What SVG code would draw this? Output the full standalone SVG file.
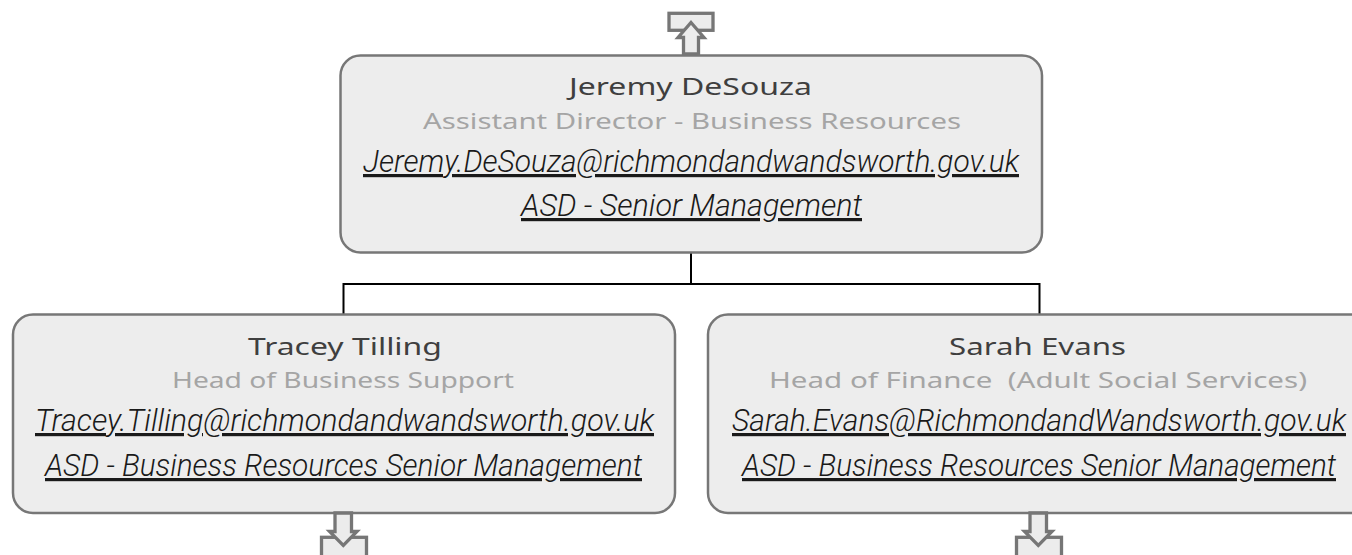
<svg xmlns="http://www.w3.org/2000/svg" width="1352" height="555" viewBox="0 0 1352 555">
<style>
.box{fill:#ededed;stroke:#777;stroke-width:2.5}
.arr{fill:#ececec;stroke:#767676;stroke-width:3.3;stroke-linejoin:miter}
.con{fill:none;stroke:#000;stroke-width:2}
.name{font-family:"Noto Sans","DejaVu Sans",sans-serif;font-size:24px;fill:#3f3f3f}
.title{font-family:"Noto Sans","DejaVu Sans",sans-serif;font-size:21px;fill:#a5a5a5}
.link{font-family:Roboto,"Liberation Sans",sans-serif;font-style:italic;font-weight:300;font-size:32px;fill:#1a1a1a;text-decoration:underline}
</style>
<rect width="1352" height="555" fill="#fff"/>
<g id="connectors">
<path class="con" d="M691 253V284M343.5 315V284H1039.5V315"/>
</g>
<g id="arrow-up">
<rect class="arr" x="669" y="13.3" width="44" height="17"/>
<polygon class="arr" points="691,22.5 704,37.5 698.5,37.5 698.5,54 683.5,54 683.5,37.5 678,37.5"/>
</g>
<g id="node-jeremy">
<rect class="box" x="340.5" y="55.5" width="701.5" height="197" rx="20"/>
<text class="name" x="569" y="95" textLength="243" lengthAdjust="spacingAndGlyphs">Jeremy DeSouza</text>
<text class="title" x="423" y="129" textLength="538" lengthAdjust="spacingAndGlyphs">Assistant Director - Business Resources</text>
<text class="link" x="363" y="172" textLength="656" lengthAdjust="spacingAndGlyphs">Jeremy.DeSouza@richmondandwandsworth.gov.uk</text>
<text class="link" x="521" y="216" textLength="341" lengthAdjust="spacingAndGlyphs">ASD - Senior Management</text>
</g>
<g id="node-tracey">
<rect class="box" x="13" y="314.5" width="662" height="198.5" rx="20"/>
<text class="name" x="248" y="355" textLength="194" lengthAdjust="spacingAndGlyphs">Tracey Tilling</text>
<text class="title" x="172" y="388" textLength="342" lengthAdjust="spacingAndGlyphs">Head of Business Support</text>
<text class="link" x="35" y="431" textLength="619" lengthAdjust="spacingAndGlyphs">Tracey.Tilling@richmondandwandsworth.gov.uk</text>
<text class="link" x="45" y="476" textLength="597" lengthAdjust="spacingAndGlyphs">ASD - Business Resources Senior Management</text>
</g>
<g id="node-sarah">
<rect class="box" x="708" y="314.5" width="663" height="198.5" rx="20"/>
<text class="name" x="949" y="355" textLength="177" lengthAdjust="spacingAndGlyphs">Sarah Evans</text>
<text class="title" x="769" y="388" textLength="538" lengthAdjust="spacingAndGlyphs" xml:space="preserve">Head of Finance  (Adult Social Services)</text>
<text class="link" x="732" y="431" textLength="614" lengthAdjust="spacingAndGlyphs">Sarah.Evans@RichmondandWandsworth.gov.uk</text>
<text class="link" x="742" y="476" textLength="594" lengthAdjust="spacingAndGlyphs">ASD - Business Resources Senior Management</text>
</g>
<g id="arrow-down-left">
<rect class="arr" x="321.5" y="537.3" width="45" height="25"/>
<polygon class="arr" points="335,513 351.5,513 351.5,531.5 357,531.5 343.3,545.5 329.5,531.5 335,531.5"/>
</g>
<g id="arrow-down-right">
<rect class="arr" x="1016.5" y="537.3" width="45" height="25"/>
<polygon class="arr" points="1030,513 1046.5,513 1046.5,531.5 1052,531.5 1038.3,545.5 1024.5,531.5 1030,531.5"/>
</g>
</svg>
